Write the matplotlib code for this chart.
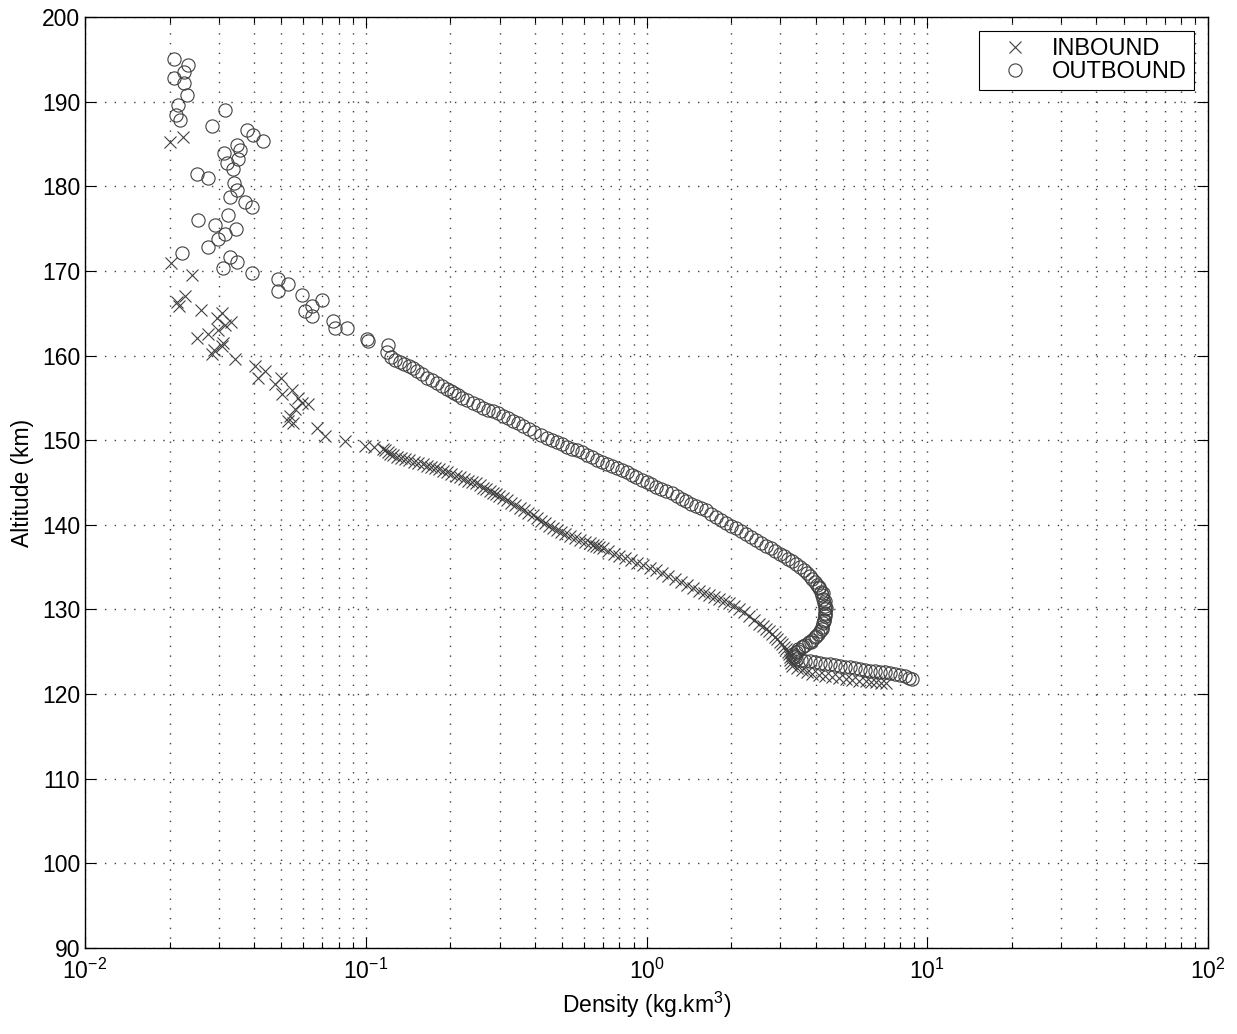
import numpy as np
import matplotlib.pyplot as plt
from matplotlib.ticker import LogLocator, MultipleLocator, NullFormatter

plt.rcParams['font.family'] = ['Liberation Sans', 'DejaVu Sans']
plt.rcParams['mathtext.default'] = 'regular'

# outbound pass: density (kg/km^3) and altitude (km)
out_dens = [0.0207, 0.0233, 0.0225, 0.0207, 0.0225, 0.0231, 0.0214, 0.0315, 0.0211, 0.0218,
            0.0283, 0.0377, 0.0396, 0.0430, 0.0348, 0.0356, 0.0313, 0.0350, 0.0320, 0.0336,
            0.0250, 0.0274, 0.0339, 0.0348, 0.0328, 0.0371, 0.0393, 0.0323, 0.0252, 0.0290,
            0.0345, 0.0315, 0.0297, 0.0274, 0.0221, 0.0328, 0.0348, 0.0310, 0.0393, 0.0486,
            0.0528, 0.0486, 0.0592, 0.0697, 0.0643, 0.0607, 0.0643, 0.0763, 0.0776, 0.0856,
            0.1008, 0.1017, 0.1197, 0.1188, 0.1227, 0.132, 0.143, 0.152, 0.165, 0.179,
            0.194, 0.207, 0.221, 0.240, 0.261, 0.283, 0.307, 0.334, 0.362, 0.399,
            0.441, 0.478, 0.519, 0.564, 0.612, 0.664, 0.721, 0.782, 0.849, 0.921,
            1.0, 1.085, 1.178, 1.279, 1.388, 1.506, 1.635, 1.775, 1.926, 2.091,
            2.269, 2.463, 2.673, 2.878, 3.098, 3.308, 3.532, 3.741, 3.896, 4.059,
            4.196, 4.266, 4.335, 4.335, 4.300, 4.230, 4.094, 3.896, 3.680, 3.475,
            3.335, 3.418, 3.680, 3.994, 4.335, 4.705, 5.108, 5.544, 6.017, 6.530,
            7.087, 7.692, 8.351, 8.843]
out_alt = [195.0, 194.3, 193.5, 192.8, 192.2, 190.8, 189.6, 189.0, 188.4, 187.8,
           187.1, 186.6, 186.0, 185.4, 184.9, 184.3, 183.9, 183.2, 182.7, 182.0,
           181.5, 181.0, 180.4, 179.5, 178.7, 178.1, 177.5, 176.6, 176.0, 175.4,
           174.9, 174.4, 173.8, 172.8, 172.1, 171.6, 171.0, 170.3, 169.7, 169.0,
           168.4, 167.6, 167.1, 166.5, 165.9, 165.3, 164.7, 164.1, 163.3, 163.2,
           162.0, 161.7, 161.2, 160.4, 159.8, 159.2, 158.8, 158.2, 157.4, 156.7,
           156.1, 155.6, 155.0, 154.4, 153.8, 153.4, 152.9, 152.3, 151.7, 151.0,
           150.3, 149.8, 149.2, 148.8, 148.3, 147.7, 147.2, 146.7, 146.2, 145.6,
           145.1, 144.5, 144.0, 143.4, 142.8, 142.2, 141.7, 140.9, 140.2, 139.6,
           138.9, 138.2, 137.5, 136.9, 136.3, 135.7, 135.0, 134.3, 133.6, 132.9,
           132.1, 131.2, 130.4, 129.6, 128.8, 127.9, 127.1, 126.4, 125.8, 125.3,
           124.7, 124.1, 123.9, 123.8, 123.6, 123.4, 123.2, 123.1, 122.8, 122.7,
           122.6, 122.4, 122.1, 121.8]
# outbound samples lying between the ones above in the dense band
out_dens_b = [0.1273, 0.1374, 0.1474, 0.1584, 0.1719, 0.1863, 0.2004, 0.2139, 0.2303, 0.2503,
              0.2718, 0.2948, 0.3202, 0.3477, 0.3801, 0.4195, 0.4591, 0.4981, 0.5410, 0.5875,
              0.6375, 0.6919, 0.7509, 0.8148, 0.8843, 0.9597, 1.0416, 1.1305, 1.2274, 1.3324,
              1.4458, 1.5692, 1.7036, 1.8490, 2.0068, 2.1782, 2.3640, 2.5658, 2.7736, 2.9860,
              3.2013, 3.4182, 3.6350, 3.8177, 3.9767, 4.1269, 4.2309, 4.3004, 4.3350, 4.3175,
              4.2649, 4.1614, 3.9938, 3.7865, 3.5760, 3.4043, 3.3763, 3.5465, 3.8339, 4.1610,
              4.5162, 4.9024, 5.3216, 5.7757, 6.2684, 6.8029, 7.3833, 8.0147, 8.5935,
              4.10, 4.24, 4.31, 4.34, 4.33, 4.29, 4.20, 4.03, 3.84, 3.62, 3.45, 3.36]
out_alt_b = [159.5, 159.0, 158.5, 157.8, 157.05, 156.4, 155.85, 155.3, 154.7, 154.1,
             153.6, 153.15, 152.6, 152.0, 151.35, 150.65, 150.05, 149.5, 149.0, 148.55,
             148.0, 147.45, 146.95, 146.45, 145.9, 145.35, 144.8, 144.25, 143.7, 143.1,
             142.5, 141.95, 141.3, 140.55, 139.9, 139.25, 138.55, 137.85, 137.2, 136.6,
             136.0, 135.35, 134.65, 133.95, 133.25, 132.5, 131.65, 130.8, 130.0, 129.2,
             128.35, 127.5, 126.75, 126.1, 125.55, 125.0, 124.4, 124.0, 123.85, 123.7,
             123.5, 123.3, 123.15, 122.95, 122.75, 122.65, 122.5, 122.25, 121.95,
             132.7, 131.9, 131.0, 130.2, 129.4, 128.6, 127.7, 126.9, 126.2, 125.7, 125.1, 124.5]

# inbound pass
in_dens = [0.0201, 0.0223, 0.0202, 0.0240, 0.0227, 0.0213, 0.0216, 0.0259, 0.0307, 0.0295,
           0.0331, 0.0315, 0.0297, 0.0274, 0.0250, 0.0310, 0.0307, 0.0288, 0.0283, 0.0342,
           0.0403, 0.0437, 0.0413, 0.0498, 0.0475, 0.0502, 0.0546, 0.0573, 0.0622, 0.0592,
           0.0559, 0.0536, 0.0550, 0.0528, 0.0669, 0.0715, 0.0842, 0.0992,
           0.1149, 0.1197, 0.1248, 0.134, 0.143, 0.154, 0.165, 0.176, 0.188, 0.202,
           0.216, 0.232, 0.248, 0.262, 0.276, 0.291, 0.307, 0.329, 0.353, 0.379,
           0.406, 0.434, 0.463, 0.496, 0.532, 0.578, 0.627, 0.661, 0.697, 0.763,
           0.835, 0.925, 1.025, 1.136, 1.258, 1.394, 1.544, 1.676, 1.819, 1.974,
           2.143, 2.326, 2.524, 2.663, 2.808, 2.926, 3.048, 3.135, 3.228, 3.25,
           3.308, 3.591, 3.896, 4.335, 4.862, 5.408, 6.065, 6.584, 7.146]
in_alt = [185.2, 185.8, 170.9, 169.5, 167.0, 166.3, 165.9, 165.4, 165.0, 164.4,
          164.0, 163.6, 163.0, 162.6, 162.1, 161.5, 161.1, 160.7, 160.2, 159.6,
          158.8, 158.2, 157.3, 157.4, 156.6, 155.5, 155.9, 155.0, 154.3, 154.4,
          153.7, 152.9, 152.0, 152.3, 151.4, 150.5, 149.9, 149.3,
          149.0, 148.6, 148.2, 147.9, 147.6, 147.3, 147.0, 146.7, 146.4, 146.0,
          145.6, 145.2, 144.9, 144.4, 144.0, 143.6, 143.2, 142.6, 142.0, 141.4,
          140.8, 140.2, 139.6, 139.2, 138.7, 138.2, 137.8, 137.5, 137.2, 136.6,
          136.1, 135.5, 134.9, 134.3, 133.6, 132.9, 132.2, 131.7, 131.2, 130.7,
          130.1, 129.2, 128.3, 127.7, 127.1, 126.5, 125.9, 125.3, 124.7, 124.0,
          123.3, 122.8, 122.4, 122.1, 121.9, 121.7, 121.5, 121.4, 121.3]
in_dens_b = [0.1068, 0.1173, 0.1222, 0.1293, 0.1384, 0.1484, 0.1594, 0.1704, 0.1819, 0.1949,
             0.2089, 0.2239, 0.2399, 0.2549, 0.2689, 0.2834, 0.2989, 0.3178, 0.3408, 0.3658,
             0.3926, 0.4198, 0.4483, 0.4792, 0.5137, 0.5545, 0.6020, 0.6438, 0.6788, 0.7293,
             0.7982, 0.8789, 0.9737, 1.0791, 1.1955, 1.3243, 1.4671, 1.6087, 1.7461, 1.8949,
             2.0568, 2.2327, 2.4230, 2.5926, 2.7346, 2.8664, 2.9864, 3.0912, 3.1811, 3.239,
             3.279, 3.4466, 3.7404, 4.1096, 4.5910, 5.1278, 5.7270, 6.3190, 6.8593]
in_alt_b = [149.15, 148.8, 148.4, 148.05, 147.75, 147.45, 147.15, 146.85, 146.55, 146.2,
            145.8, 145.4, 145.05, 144.65, 144.2, 143.8, 143.4, 142.9, 142.3, 141.7,
            141.1, 140.5, 139.9, 139.4, 138.95, 138.45, 138.0, 137.65, 137.35, 136.9,
            136.35, 135.8, 135.2, 134.6, 133.95, 133.25, 132.55, 131.95, 131.45, 130.95,
            130.4, 129.65, 128.75, 128.0, 127.4, 126.8, 126.2, 125.6, 125.0, 124.35,
            123.65, 123.05, 122.6, 122.25, 122.0, 121.8, 121.6, 121.45, 121.35]

fig = plt.figure(figsize=(12.37, 10.34), dpi=100)
ax = fig.add_axes([0.0687, 0.0832, 0.9079, 0.9004])

mk = '#404040'
ax.plot(in_dens + in_dens_b, in_alt + in_alt_b, 'x', color=mk, ms=8, mew=0.8,
        label='INBOUND')
ax.plot(out_dens + out_dens_b, out_alt + out_alt_b, 'o', mfc='none', mec=mk, ms=9.5,
        mew=0.8, label='OUTBOUND')

ax.set_xscale('log')
ax.set_xlim(1e-2, 1e2)
ax.set_ylim(90, 200)
ax.yaxis.set_major_locator(MultipleLocator(10))
ax.xaxis.set_major_locator(LogLocator(base=10, numticks=10))
ax.xaxis.set_minor_locator(LogLocator(base=10, subs=np.arange(2, 10), numticks=10))
ax.xaxis.set_minor_formatter(NullFormatter())

dots = (0, (1, 6))
ax.grid(True, which='major', axis='both', color='0.25', linestyle=dots, linewidth=1)
ax.grid(True, which='minor', axis='x', color='0.25', linestyle=dots, linewidth=1)

ax.tick_params(which='both', direction='in', top=True, right=True, labelsize=16.5)
ax.tick_params(which='major', length=8, width=0.8)
ax.tick_params(which='minor', length=4, width=0.8)
ax.tick_params(axis='x', pad=8)
for s in ax.spines.values():
    s.set_linewidth(1)

ax.set_xlabel('Density (kg.km$^3$)', fontsize=16.5, labelpad=4)
ax.set_ylabel('Altitude (km)', fontsize=16.5, labelpad=6)

leg = ax.legend(loc='upper right', fontsize=17, fancybox=False, framealpha=1,
                edgecolor='black', borderaxespad=0.6, handletextpad=0.3,
                borderpad=0.3, labelspacing=0.05, handlelength=2.5)
leg.get_frame().set_linewidth(0.8)

fig.savefig('out.png', dpi=100)
